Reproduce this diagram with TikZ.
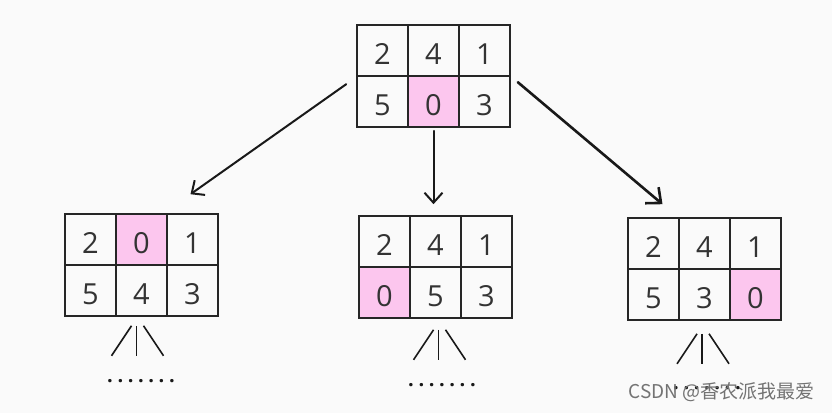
\documentclass[tikz,border=0pt]{standalone}
\usepackage{fontspec}
\setmainfont{Open Sans}
\newfontfamily\cjk{Noto Sans CJK SC}
\usetikzlibrary{arrows.meta}
\definecolor{zeropink}{HTML}{FCC6EE}
\definecolor{paper}{HTML}{FAFAFA}
\tikzset{
	cell/.style={draw=black!85, line width=1.6pt, minimum size=51pt, inner sep=0pt,
		text height=27.5pt, text depth=0pt, text=black!80, font=\fontsize{29}{29}\selectfont},
	zero/.style={cell, fill=zeropink},
	arr/.style={draw=black!90, line width=2pt, line cap=round, -{Straight Barb[length=10pt,width=18pt]}},
	fanline/.style={draw=black!90, line width=1.6pt},
	dots/.style={text=black!90, font=\fontsize{20}{20}\selectfont\bfseries\addfontfeature{LetterSpace=23}}
}
\def\fan(#1)(#2,#3){%
	\draw[fanline] ([xshift=#2pt-5pt,yshift=#3pt]#1) -- ++(-20pt,-30pt);
	\draw[fanline] ([xshift=#2pt,yshift=#3pt]#1) -- ++(0pt,-30pt);
	\draw[fanline] ([xshift=#2pt+7pt,yshift=#3pt]#1) -- ++(20pt,-30pt);}

\begin{document}
\begin{tikzpicture}[x=1pt, y=-1pt]
			%%%%% START %%%%%
			
			\fill[paper] (0, 0) rectangle (832, 413);
			
			% top board
			\node[cell] (t1) at (382.5, 50.5) {2};
			\node[cell] (t2) at (433.5, 50.5) {4};
			\node[cell] (t3) at (484.5, 50.5) {1};
			\node[cell] (t4) at (382.5, 101.5) {5};
			\node[zero] (t5) at (433.5, 101.5) {0};
			\node[cell] (t6) at (484.5, 101.5) {3};
			
			% left board
			\node[cell] (l1) at (90.5, 239.5) {2};
			\node[zero] (l2) at (141.5, 239.5) {0};
			\node[cell] (l3) at (192.5, 239.5) {1};
			\node[cell] (l4) at (90.5, 290.5) {5};
			\node[cell] (l5) at (141.5, 290.5) {4};
			\node[cell] (l6) at (192.5, 290.5) {3};
			
			% middle board
			\node[cell] (m1) at (384.5, 241.5) {2};
			\node[cell] (m2) at (435.5, 241.5) {4};
			\node[cell] (m3) at (486.5, 241.5) {1};
			\node[zero] (m4) at (384.5, 292.5) {0};
			\node[cell] (m5) at (435.5, 292.5) {5};
			\node[cell] (m6) at (486.5, 292.5) {3};
			
			% right board
			\node[cell] (r1) at (653.5, 243.5) {2};
			\node[cell] (r2) at (704.5, 243.5) {4};
			\node[cell] (r3) at (755.5, 243.5) {1};
			\node[cell] (r4) at (653.5, 294.5) {5};
			\node[cell] (r5) at (704.5, 294.5) {3};
			\node[zero] (r6) at (755.5, 294.5) {0};
			
			% moves
			\draw[arr] ([xshift=-10pt,yshift=-9pt]t4.north west) -- ([xshift=-2pt,yshift=19pt]l3.north);
			\draw[arr] ([yshift=-3pt]t5.south) -- ([xshift=-2pt,yshift=11pt]m2.north);
			\draw[arr, line width=2.6pt, -{Straight Barb[length=12pt,width=21pt]}]
				([xshift=7pt,yshift=-7pt]t6.north east) -- ([xshift=9pt,yshift=13pt]r1.north);
			
			\fan(l5.south)(-5,-9)
			\fan(m5.south)(3,-11)
			\fan(r5.south)(-2.5,-13)
			
			\node[dots] (ld) at (141, 381) {.......};
			\node[dots] (md) at (442, 385) {.......};
			\node[dots] (rd) at (707, 388) {.......};
			
			\node[text=black!55, font=\cjk\fontsize{19}{19}\selectfont, anchor=east] (mark) at (818, 392) {CSDN @香农派我最爱};
			
			%%%%% END %%%%%
		\end{tikzpicture}
\end{document}
